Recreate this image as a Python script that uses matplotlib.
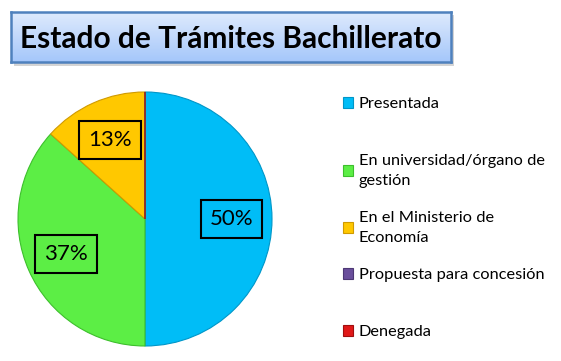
import matplotlib as mpl
mpl.use('Agg')
import matplotlib.pyplot as plt
import numpy as np

categories = ['Presentada', 'En universidad/órgano de\ngestión',
              'En el Ministerio de\nEconomía', 'Propuesta para concesión', 'Denegada']
counts = [15, 11, 4, 0, 0]
colors = ['#00BDF7', '#5CEE45', '#FFC800', '#6A4F9C', '#E01818']
edges = ['#0096C8', '#3DBF2C', '#D09A00', '#4D3875', '#A00E0E']
title = 'Estado de Trámites Bachillerato'

plt.rcParams['font.family'] = ['Lato', 'DejaVu Sans']

W, H = 561, 361
fig = plt.figure(figsize=(W / 100, H / 100), dpi=100)

def px(x0, y0, w, h):
    return [x0 / W, 1 - (y0 + h) / H, w / W, h / H]

# title box with shadow and gradient
shadow = fig.add_axes(px(14, 15, 440, 51))
shadow.set_facecolor('#d4d4d4')
for s in shadow.spines.values():
    s.set_visible(False)
shadow.set_xticks([]); shadow.set_yticks([])
tax = fig.add_axes(px(11, 12, 440, 50))
grad = np.linspace(0, 1, 50)[:, None]
top = np.array([222, 234, 253]) / 255
bot = np.array([165, 199, 250]) / 255
img = top[None, None, :] * (1 - grad[:, :, None]) + bot[None, None, :] * grad[:, :, None]
tax.imshow(np.repeat(img, 2, axis=1), aspect='auto', extent=[0, 1, 0, 1], origin='upper')
for s in tax.spines.values():
    s.set_color('#4F81BD')
    s.set_linewidth(1.8)
tax.set_xticks([]); tax.set_yticks([])
tax.set_xlim(0, 1); tax.set_ylim(0, 1)
tax.text(0.5, 0.46, title, ha='center', va='center', fontsize=21.5, fontweight='bold',
         color='black')

# pie
ax = fig.add_axes(px(18, 92, 254, 254))
def pct(p):
    return f'{p:.0f}%' if p > 0 else ''
wedges, texts, autotexts = ax.pie(counts, colors=colors, startangle=90, counterclock=False,
                                  autopct=pct, pctdistance=0.68,
                                  wedgeprops=dict(linewidth=0.8),
                                  textprops=dict(fontsize=16))
for w, e in zip(wedges, edges):
    w.set_edgecolor(e)
for t in autotexts:
    t.set_bbox(dict(boxstyle='square,pad=0.4', facecolor='none', edgecolor='black', linewidth=1.5))
ax.set_xlim(-1, 1)
ax.set_ylim(-1, 1)
ax.set_aspect('equal')

# Excel spaces legend entries evenly by their first line, so one legend per entry
for i, (w, lab) in enumerate(zip(wedges, categories)):
    leg = fig.legend([w], [lab], loc='upper left',
                     bbox_to_anchor=(335 / W, 1 - (89 + 57 * i) / H),
                     frameon=False, fontsize=11.8, handlelength=0.6, handleheight=0.6,
                     handletextpad=0.35, borderpad=0)
    for t in leg.get_texts():
        t.set_linespacing(1.5)

fig.savefig('out.png', dpi=100)
